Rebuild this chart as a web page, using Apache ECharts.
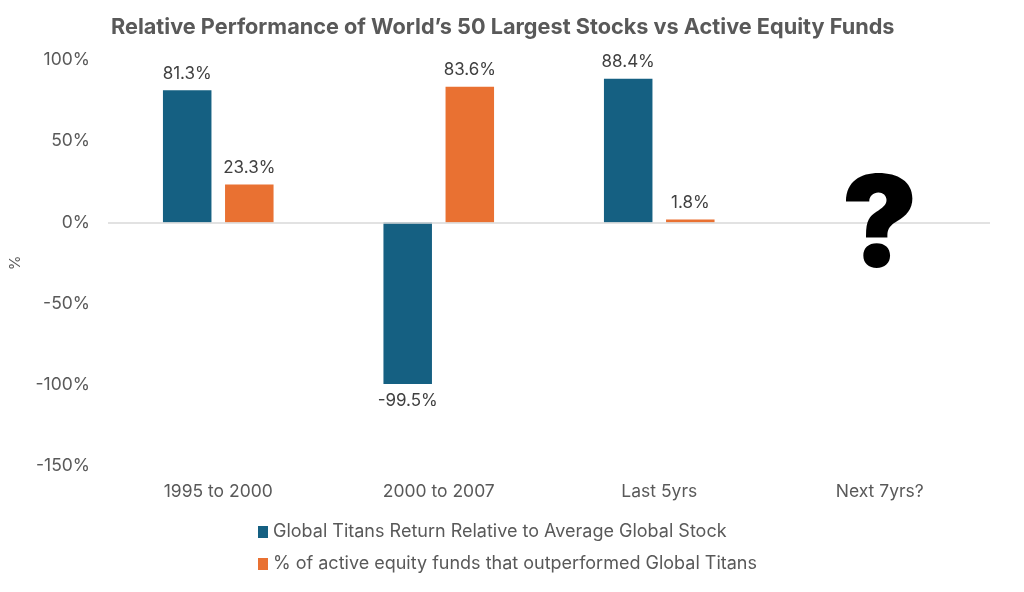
<!DOCTYPE html>
<html>
<head>
<meta charset="utf-8">
<script src="https://cdn.jsdelivr.net/npm/echarts@6/dist/echarts.min.js"></script>
<style>
  html, body { margin: 0; padding: 0; background: #fff; }
  #chart { width: 1024px; height: 592px; }
</style>
</head>
<body>
<div id="chart"></div>
<script>
var categories = ['1995 to 2000', '2000 to 2007', 'Last 5yrs', 'Next 7yrs?'];
var titansReturn = [81.3, -99.5, 88.4, null];
var fundsOutperformed = [23.3, 83.6, 1.8, null];
var unknownMark = [null, null, null, -4];
var yTicks = [-150, -100, -50, 0, 50, 100];

var seriesNames = [
    'Global Titans Return Relative to Average Global Stock',
    '% of active equity funds that outperformed Global Titans'
];
var font = 'Inter, "Noto Sans", sans-serif';

function pct(p) {
    return p.value == null ? '' : p.value.toFixed(1) + '%';
}

// negative bars get their label underneath
function withLabels(arr) {
    return arr.map(function (v) {
        if (v != null && v < 0) return { value: v, label: { position: 'bottom' } };
        return v;
    });
}

var option = {
    backgroundColor: '#fff',
    title: {
        text: 'Relative Performance of World\u2019s 50 Largest Stocks vs Active Equity Funds',
        left: 106, top: 11,
        textStyle: { fontFamily: font, fontSize: 21.7, fontWeight: 'bold', color: '#595959' }
    },
    grid: { left: 108, right: 34, top: 60, bottom: 126 },
    legend: {
        data: seriesNames,
        orient: 'vertical',
        left: 253, top: 518,
        itemWidth: 10, itemHeight: 12, itemGap: 14,
        icon: 'rect',
        textStyle: { fontFamily: font, fontSize: 18, color: '#595959' }
    },
    xAxis: {
        type: 'category',
        data: categories,
        axisLine: { show: false, onZero: false },
        axisTick: { show: false },
        axisLabel: { margin: 17, fontFamily: font, fontSize: 17.5, color: '#595959' }
    },
    yAxis: {
        type: 'value',
        min: yTicks[0], max: yTicks[yTicks.length - 1], interval: 50,
        name: '%', nameLocation: 'middle', nameGap: 85, nameRotate: 90,
        nameTextStyle: { fontFamily: font, fontSize: 15, color: '#595959' },
        axisLine: { show: false },
        axisTick: { show: false },
        splitLine: { show: false },
        axisLabel: { margin: 18, fontFamily: font, fontSize: 17.5, color: '#595959',
            formatter: function (v) { return v + '%'; } }
    },
    series: [
        {
            name: seriesNames[0], type: 'bar',
            data: withLabels(titansReturn),
            barWidth: '22%', barGap: '28%',
            itemStyle: { color: '#156082' },
            label: { show: true, position: 'top', distance: 8, formatter: pct,
                fontFamily: font, fontSize: 17, color: '#404040' },
            markLine: {
                silent: true, symbol: 'none',
                lineStyle: { color: '#d9d9d9', width: 1.5, type: 'solid' },
                label: { show: false },
                data: [{ yAxis: 0 }]
            },
            z: 3
        },
        {
            name: seriesNames[1], type: 'bar',
            data: withLabels(fundsOutperformed),
            barWidth: '22%',
            itemStyle: { color: '#E97132' },
            label: { show: true, position: 'top', distance: 8, formatter: pct,
                fontFamily: font, fontSize: 17, color: '#404040' },
            z: 3
        },
        {
            name: 'unknown', type: 'scatter',
            data: unknownMark,
            symbolSize: 0,
            itemStyle: { opacity: 1 },
            label: { show: true, position: 'inside', formatter: '?',
                fontFamily: 'Inter, "Liberation Sans", sans-serif', fontSize: 128, fontWeight: 900,
                color: '#000000', textBorderWidth: 0, opacity: 1 },
            z: 5
        }
    ],
    animation: false
};

var myChart = echarts.init(document.getElementById('chart'));
myChart.setOption(option);
</script>
</body>
</html>
